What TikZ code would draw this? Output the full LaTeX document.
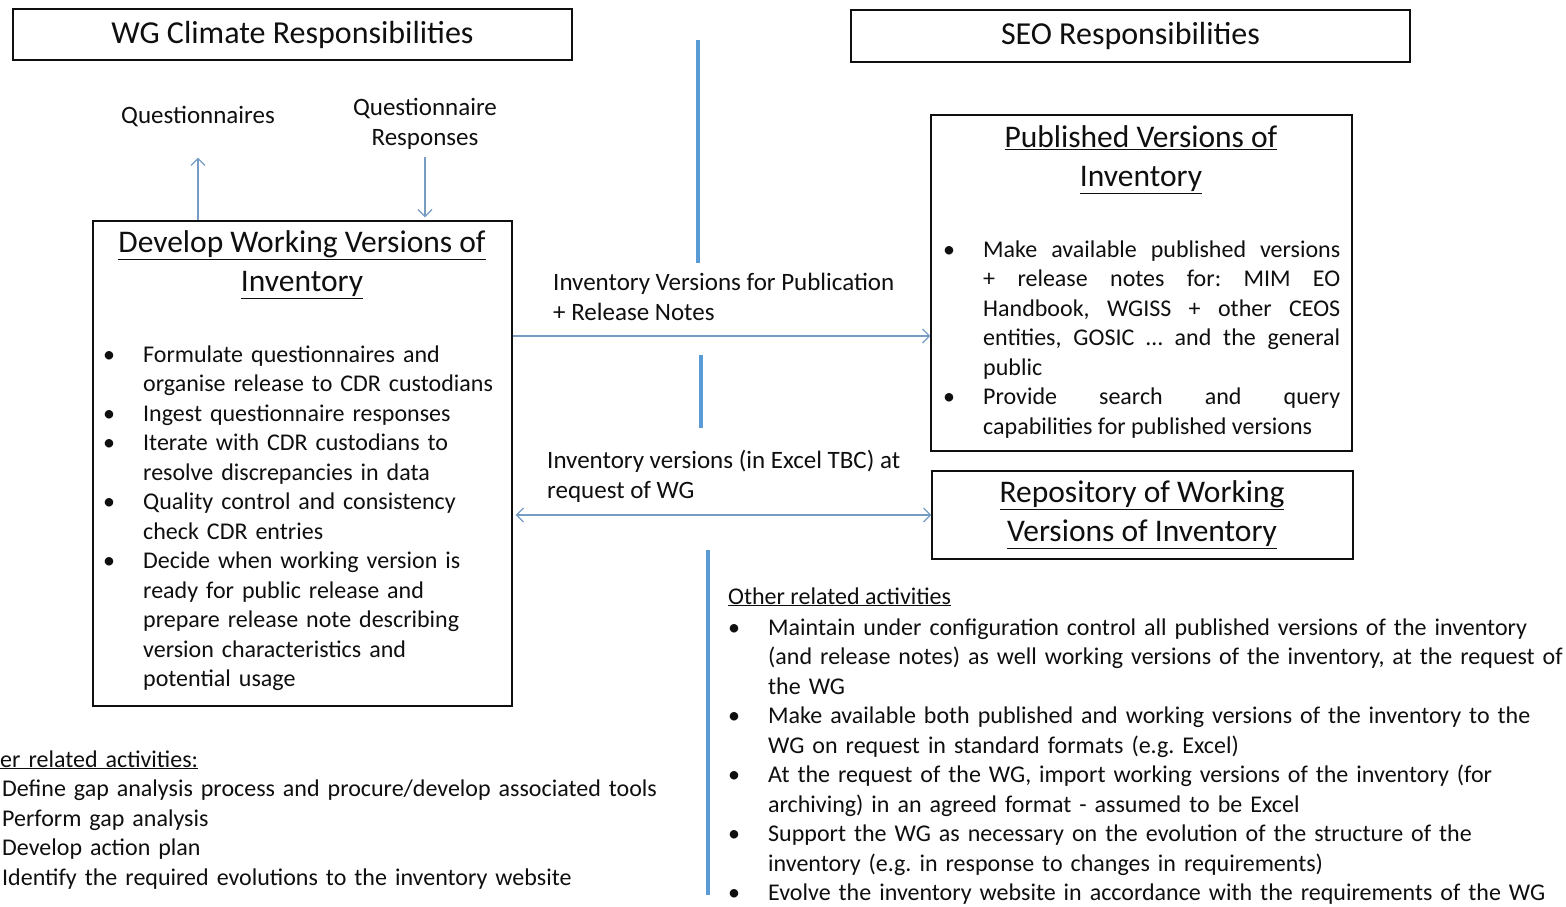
\documentclass[tikz,border=0pt]{standalone}
\usepackage{fontspec}
\setmainfont{Carlito}
\usetikzlibrary{arrows.meta,positioning,calc}
\definecolor{ink}{RGB}{15,15,15}
\definecolor{splitblue}{RGB}{91,155,213}
\definecolor{flowblue}{RGB}{118,156,196}
\frenchspacing

\newcommand{\bodyfont}{\fontsize{24}{29.5}\selectfont}
\newcommand{\flowfont}{\fontsize{25}{30}\selectfont}
\newcommand{\boxtitlefont}{\fontsize{31.5}{39}\selectfont}
\newcommand{\headfont}{\fontsize{32}{36}\selectfont}
% one bullet item, hanging indent
\newcommand{\bstart}{\hangindent=40pt\hangafter=1\noindent
  \makebox[40pt][l]{\textbullet}\ignorespaces}
\newcommand{\bitem}{\par\bstart}

\tikzset{
  frame/.style={draw=ink,line width=1.2pt,inner sep=0pt},
  heading/.style={font=\headfont,text=ink},
  boxtitle/.style={font=\boxtitlefont,text=ink,align=center,inner sep=0pt},
  flowtext/.style={font=\flowfont,text=ink,align=left,inner sep=0pt},
  bullets/.style={font=\bodyfont,text=ink,inner sep=0pt,anchor=base west,align=left},
  splitter/.style={draw=splitblue,line width=4.5pt},
  flow/.style={draw=flowblue,line width=1.3pt,-{Straight Barb[length=7pt,width=14pt]}},
  flowboth/.style={draw=flowblue,line width=1.3pt,
    {Straight Barb[length=7pt,width=14pt]}-{Straight Barb[length=7pt,width=14pt]}}
}

\begin{document}
\begin{tikzpicture}[x=1pt,y=-1pt]
  \useasboundingbox[fill=white] (0,0) rectangle (1566,906);

  % headings
  \node[frame,heading,minimum width=559pt,minimum height=51pt] (wg) at (292.5,34.5)
    {WG Climate Responsibilities};
  \node[frame,heading,minimum width=559pt,minimum height=52pt] (seo) at (1130.5,36)
    {SEO Responsibilities};

  % dividing line
  \draw[splitter] (698,40) -- (698,263);
  \draw[splitter] (701,355) -- (701,428);
  \draw[splitter] (708,550) -- (708,895);

  % WG side
  \node[flowtext] (qs) at (198,117) {Questionnaires};
  \node[flowtext,align=center] (qr) at (425,124) {Questionnaire\\Responses};

  \node[frame,minimum width=419pt,minimum height=485pt] (dev) at (302.5,463.5) {};
  \node[boxtitle] (devtitle) at (302,264.5)
    {\underline{Develop Working Versions of}\\\underline{Inventory}};
  \node[bullets,text width=410pt] (devlist) at (103,362) {%
    \bstart Formulate questionnaires and\newline organise release to CDR custodians
    \bitem Ingest questionnaire responses
    \bitem Iterate with CDR custodians to\newline resolve discrepancies in data
    \bitem Quality control and consistency\newline check CDR entries
    \bitem Decide when working version is\newline ready for public release and\newline
      prepare release note describing\newline version characteristics and\newline
      potential usage\par};

  \draw[flow,shorten >=30pt] (dev.north -| qs.south) -- (qs.south);
  \draw[flow,shorten <=7pt,shorten >=3pt] (qr.south) -- (dev.north -| qr.south);

  % SEO side
  \node[frame,minimum width=421pt,minimum height=336pt] (pub) at (1141.5,283) {};
  \node[boxtitle] (pubtitle) at (1141,159.5)
    {\underline{Published Versions of}\\\underline{Inventory}};
  \node[bullets,text width=397pt,align=justify] (publist) at (943,257) {%
    \tolerance=9999\emergencystretch=10pt
    \bstart Make available published versions\linebreak + release notes for: MIM EO\linebreak
      Handbook, WGISS + other CEOS\linebreak entities, GOSIC … and the general\linebreak public
    \bitem Provide search and query\linebreak capabilities for published versions\par};

  \node[frame,minimum width=421pt,minimum height=88pt] (repo) at (1142.5,515) {};
  \node[boxtitle] (repotitle) at (1142,514.5)
    {\underline{Repository of Working}\\\underline{Versions of Inventory}};

  % exchanges
  \coordinate (pubrow) at (0,336);
  \draw[flow] (dev.east |- pubrow) -- (pub.west |- pubrow);
  \node[flowtext,anchor=base west] (publab) at (553,320)
    {Inventory Versions for Publication\\+ Release Notes};
  \draw[flowboth,shorten <=3pt] (dev.east |- repo.west) -- (repo.west);
  \node[flowtext,anchor=base west] (repolab) at (547,498)
    {Inventory versions (in Excel TBC) at\\request of WG};

  % other activities
  \node[bullets] (seohead) at (728,604) {\underline{Other related activities}};
  \node[bullets,text width=838pt] (seoother) at (728,635) {%
    \bstart Maintain under configuration control all published versions of the inventory\newline
      (and release notes) as well working versions of the inventory, at the request of\newline the WG
    \bitem Make available both published and working versions of the inventory to the\newline
      WG on request in standard formats (e.g. Excel)
    \bitem At the request of the WG, import working versions of the inventory (for\newline
      archiving) in an agreed format - assumed to be Excel
    \bitem Support the WG as necessary on the evolution of the structure of the\newline
      inventory (e.g. in response to changes in requirements)
    \bitem Evolve the inventory website in accordance with the requirements of the WG\par};

  \node[bullets,text width=700pt] (wgother) at (0,767) {%
    \underline{er related activities:}\par
    \hspace*{2pt}Define gap analysis process and procure/develop associated tools\par
    \hspace*{2pt}Perform gap analysis\par
    \hspace*{2pt}Develop action plan\par
    \hspace*{2pt}Identify the required evolutions to the inventory website\par};
\end{tikzpicture}
\end{document}
